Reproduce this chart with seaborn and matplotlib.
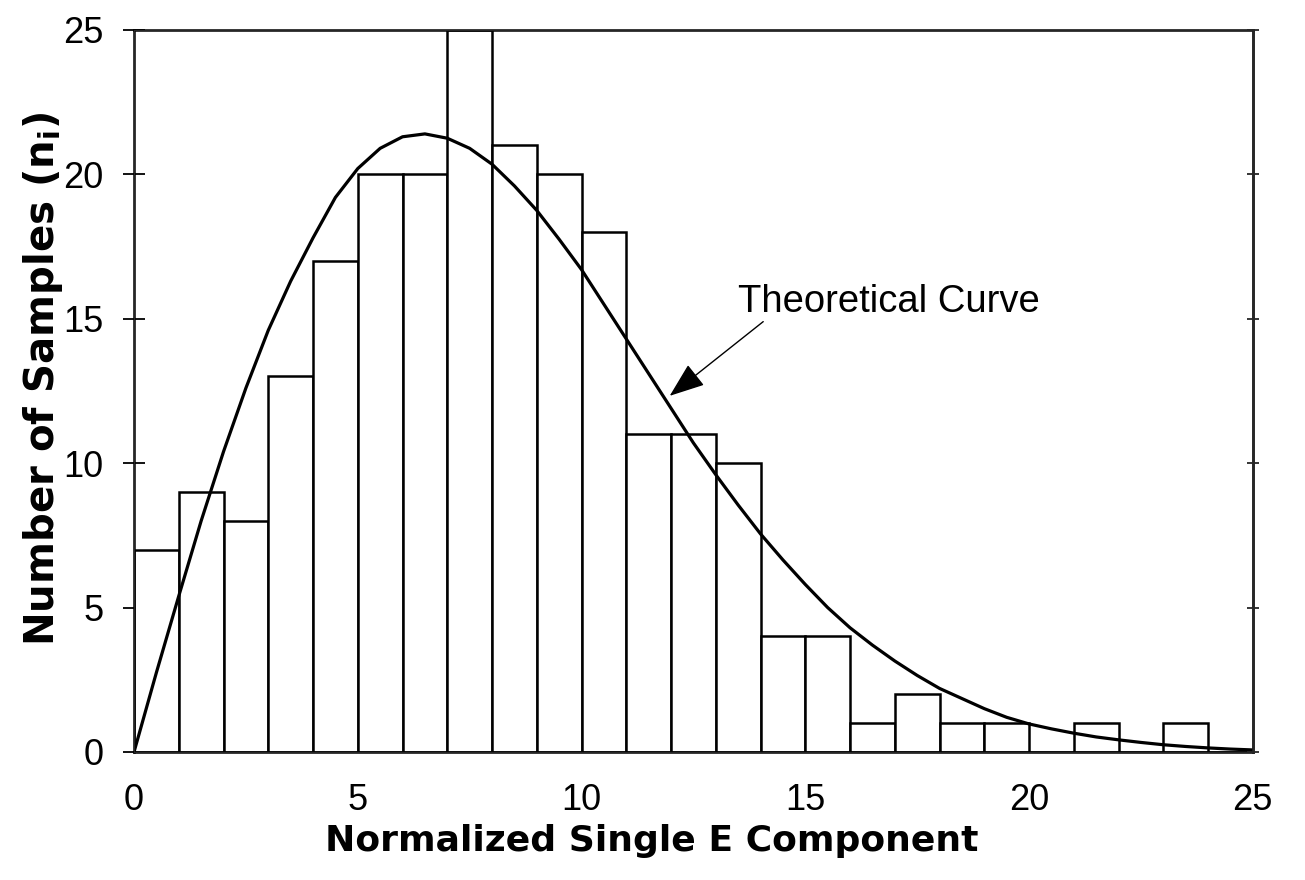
import matplotlib
matplotlib.use("Agg")
import matplotlib.pyplot as plt
import pandas as pd
import seaborn as sns

# Histogram counts per unit-wide bin, bins 0-1 ... 24-25
bin_left = list(range(0, 25))
counts = [7, 9, 8, 13, 17, 20, 20, 25, 21, 20, 18, 11, 11, 10, 4, 4, 1, 2, 1, 1, 0, 1, 0, 1, 0]

# Theoretical curve, every 0.5 units
curve_x = [0.0, 0.5, 1.0, 1.5, 2.0, 2.5, 3.0, 3.5, 4.0, 4.5, 5.0, 5.5, 6.0, 6.5, 7.0,
           7.5, 8.0, 8.5, 9.0, 9.5, 10.0, 10.5, 11.0, 11.5, 12.0, 12.5, 13.0, 13.5,
           14.0, 14.5, 15.0, 15.5, 16.0, 16.5, 17.0, 17.5, 18.0, 18.5, 19.0, 19.5,
           20.0, 20.5, 21.0, 21.5, 22.0, 22.5, 23.0, 23.5, 24.0, 24.5, 25.0]
curve_y = [0.0, 2.75, 5.4, 8.0, 10.4, 12.6, 14.6, 16.3, 17.8, 19.2, 20.2, 20.9, 21.3,
           21.4, 21.25, 20.9, 20.35, 19.6, 18.75, 17.75, 16.7, 15.5, 14.3, 13.1, 11.9,
           10.7, 9.6, 8.55, 7.55, 6.65, 5.8, 5.0, 4.3, 3.7, 3.15, 2.65, 2.2, 1.85, 1.5,
           1.2, 0.97, 0.8, 0.65, 0.52, 0.42, 0.33, 0.25, 0.19, 0.14, 0.1, 0.07]

x_ticks = [0, 5, 10, 15, 20, 25]
y_ticks = [0, 5, 10, 15, 20, 25]

sns.set_style("white")
plt.rcParams["font.family"] = ["Liberation Sans", "DejaVu Sans"]
plt.rcParams["text.color"] = "black"
plt.rcParams["axes.labelcolor"] = "black"
plt.rcParams["mathtext.fontset"] = "custom"
plt.rcParams["mathtext.rm"] = "DejaVu Sans"
plt.rcParams["mathtext.bf"] = "DejaVu Sans:bold"

hist_df = pd.DataFrame({"value": [b + 0.5 for b in bin_left], "count": counts})
curve_df = pd.DataFrame({"x": curve_x, "y": curve_y})

fig, ax = plt.subplots(figsize=(13.05, 8.8), dpi=100)
fig.subplots_adjust(left=0.1027, right=0.960, bottom=0.1455, top=0.966)

sns.histplot(data=hist_df, x="value", weights="count", binwidth=1, binrange=(0, 25),
             color="white", edgecolor="black", linewidth=1.8, alpha=1, ax=ax)
sns.lineplot(data=curve_df, x="x", y="y", color="black", linewidth=2.3, ax=ax)

ax.set_xlim(0, 25)
ax.set_ylim(0, 25)
ax.set_xticks(x_ticks)
ax.set_yticks(y_ticks)
ax.tick_params(axis="both", labelsize=26, colors="black")
ax.tick_params(axis="x", direction="out", length=9, width=1.3, pad=13)
ax.tick_params(axis="y", direction="inout", length=16, width=1.3, pad=14)
ax.set_xlabel("")
ax.set_ylabel("")

for side in ["left", "right", "top", "bottom"]:
    ax.spines[side].set_visible(True)
    ax.spines[side].set_color("black")
    ax.spines[side].set_linewidth(1.8)

# right side ticks
ax2 = ax.twinx()
ax2.set_ylim(0, 25)
ax2.set_yticks(y_ticks)
ax2.tick_params(axis="y", direction="inout", length=8, width=1.3, labelright=False)
ax2.spines["right"].set_linewidth(1.8)

# axis titles, placed as in the reference
fig.text(651.5 / 1305, 0.044, "Normalized Single E Component", fontsize=26,
         fontweight="bold", family="DejaVu Sans", ha="center", va="center")
fig.text(43 / 1305, 1 - 379 / 880, r"Number of Samples (n$_{\mathbf{i}}$)", fontsize=29,
         fontweight="bold", family="DejaVu Sans", rotation=90, ha="center", va="center")

ax.text(13.49, 15.24, "Theoretical Curve", fontsize=27.5, ha="left", va="baseline")
ax.annotate("", xy=(11.97, 12.33), xytext=(14.06, 14.9),
            arrowprops=dict(arrowstyle="-|>,head_length=0.85,head_width=0.32",
                            color="black", lw=1.0, mutation_scale=26,
                            shrinkA=0, shrinkB=0))

fig.savefig("out.png", dpi=100)
plt.close(fig)
